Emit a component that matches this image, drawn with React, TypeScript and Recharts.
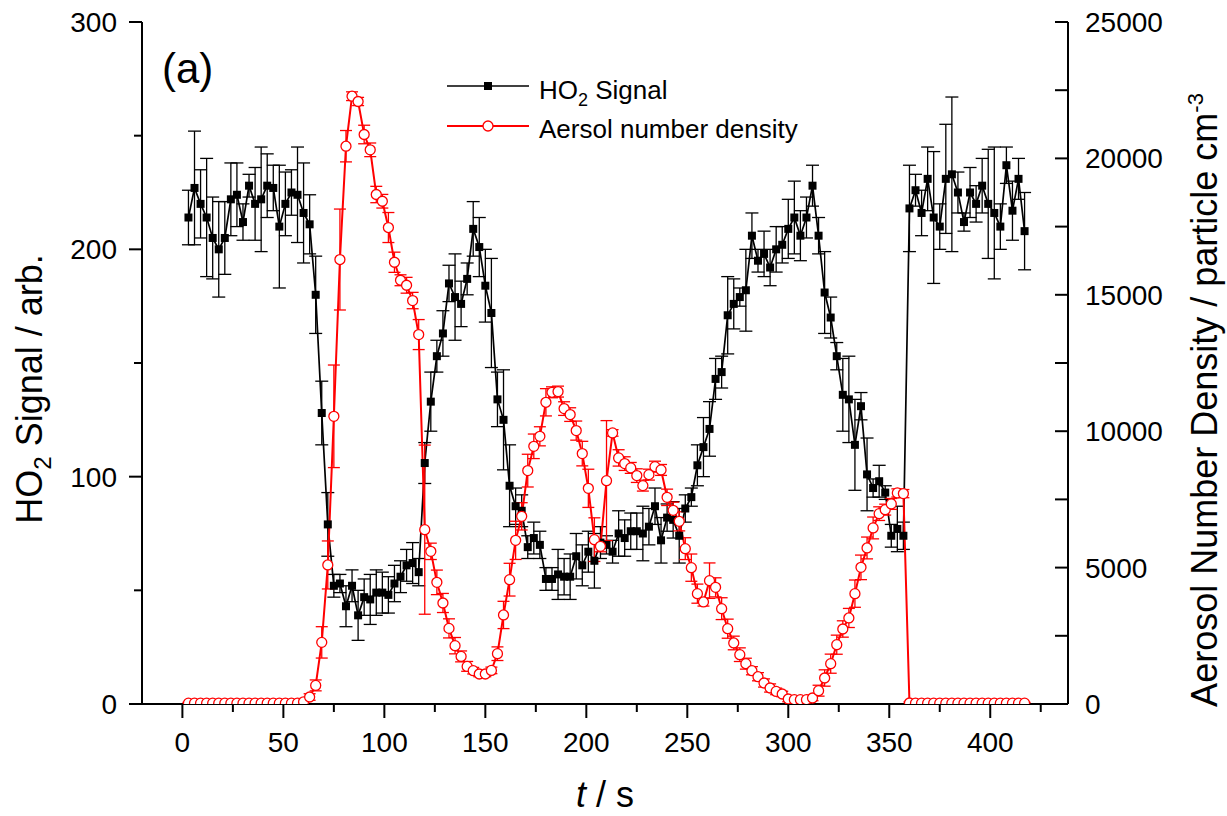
import { ComposedChart, ErrorBar, Line, XAxis, YAxis } from "recharts";

const FONT = '"Liberation Sans", Arial, sans-serif';

// sample times (s)
const times = [
  3, 6, 9, 12, 15, 18, 21, 24, 27, 30,
  33, 36, 39, 42, 45, 48, 51, 54, 57, 60,
  63, 66, 69, 72, 75, 78, 81, 84, 87, 90,
  93, 96, 99, 102, 105, 108, 111, 114, 117, 120,
  123, 126, 129, 132, 135, 138, 141, 144, 147, 150,
  153, 156, 159, 162, 165, 168, 171, 174, 177, 180,
  183, 186, 189, 192, 195, 198, 201, 204, 207, 210,
  213, 216, 219, 222, 225, 228, 231, 234, 237, 240,
  243, 246, 249, 252, 255, 258, 261, 264, 267, 270,
  273, 276, 279, 282, 285, 288, 291, 294, 297, 300,
  303, 306, 309, 312, 315, 318, 321, 324, 327, 330,
  333, 336, 339, 342, 345, 348, 351, 354, 357, 360,
  363, 366, 369, 372, 375, 378, 381, 384, 387, 390,
  393, 396, 399, 402, 405, 408, 411, 414, 417,
];

const ho2Signal = [
  214, 227, 220, 214, 205, 200, 205, 222, 224, 212,
  228, 220, 222, 228, 227, 210, 220, 225, 224, 216,
  211, 180, 128, 79, 52, 53, 43, 52, 39, 47,
  46, 49, 49, 48, 53, 56, 61, 62, 58, 106,
  133, 153, 163, 185, 179, 176, 187, 209, 201, 184,
  172, 134, 125, 96, 87, 85, 69, 73, 70, 55,
  55, 57, 56, 56, 65, 61, 67, 63, 71, 70,
  67, 75, 73, 76, 76, 75, 78, 87, 72, 82,
  81, 74, 86, 91, 105, 113, 121, 143, 146, 171,
  176, 179, 182, 206, 195, 198, 192, 200, 202, 209,
  214, 206, 214, 228, 206, 181, 170, 153, 136, 134,
  114, 131, 101, 95, 98, 93, 74, 77, 74, 218,
  226, 216, 231, 214, 210, 231, 233, 225, 212, 225,
  220, 228, 220, 216, 210, 237, 217, 231, 208,
];

const ho2Error = [
  12, 25, 15, 26, 18, 21, 16, 16, 14, 8,
  5, 16, 23, 14, 10, 27, 14, 10, 21, 22,
  13, 17, 14, 14, 5, 4, 9, 7, 11, 8,
  11, 10, 9, 8, 8, 7, 7, 9, 6, 9,
  13, 7, 10, 8, 19, 10, 7, 12, 13, 16,
  24, 12, 22, 18, 8, 7, 5, 7, 6, 5,
  5, 11, 8, 10, 10, 9, 9, 12, 7, 4,
  5, 10, 8, 8, 8, 12, 8, 8, 10, 6,
  8, 12, 6, 4, 9, 13, 12, 9, 7, 17,
  11, 4, 18, 10, 5, 10, 8, 10, 8, 13,
  16, 11, 9, 9, 8, 18, 9, 6, 16, 19,
  20, 6, 16, 4, 7, 3, 5, 10, 6, 19,
  7, 10, 14, 29, 10, 24, 34, 9, 4, 11,
  8, 12, 24, 29, 10, 8, 13, 9, 17,
];

const aerosolDensity = [
  30, 30, 30, 30, 30, 30, 30, 30, 30, 30,
  30, 30, 30, 30, 30, 30, 30, 30, 30, 80,
  257, 682, 2259, 5097, 10546, 16293, 20447, 22280, 22086, 20876,
  20315, 18676, 18430, 17466, 16193, 15533, 15350, 14789, 13542, 6391,
  5596, 4459, 3703, 2772, 2138, 1745, 1379, 1221, 1100, 1100,
  1232, 1844, 3264, 4558, 5999, 6879, 8555, 9446, 9813, 11060,
  11426, 11452, 10829, 10609, 10022, 9179, 7906, 6025, 5779, 8188,
  9937, 9021, 8812, 8654, 8372, 8005, 8408, 8701, 8580, 7576,
  7099, 6696, 5695, 4998, 4045, 3740, 4521, 4276, 3495, 2761,
  2237, 1808, 1478, 1220, 1000, 770, 587, 462, 367, 183,
  158, 158, 158, 220, 488, 953, 1478, 2174, 2750, 3154,
  4045, 5009, 5720, 6454, 6978, 7125, 7334, 7737, 7712, 37,
  30, 30, 30, 30, 30, 30, 30, 30, 30, 30,
  30, 30, 30, 30, 30, 30, 30, 30, 30,
];

const aerosolError = [
  30, 30, 30, 30, 30, 30, 30, 30, 30, 30,
  30, 30, 30, 30, 30, 30, 30, 30, 30, 60,
  120, 200, 575, 880, 1880, 1850, 575, 160, 150, 340,
  250, 300, 250, 550, 370, 200, 290, 300, 550, 3100,
  300, 450, 350, 350, 300, 200, 180, 120, 100, 100,
  120, 250, 500, 600, 700, 500, 600, 450, 350, 500,
  200, 200, 250, 250, 350, 450, 700, 800, 200, 2200,
  120, 300, 250, 200, 250, 200, 200, 200, 200, 300,
  300, 350, 400, 500, 350, 150, 650, 350, 400, 350,
  250, 250, 200, 150, 150, 150, 150, 120, 100, 100,
  80, 80, 80, 100, 200, 300, 350, 350, 300, 350,
  500, 450, 400, 400, 250, 200, 200, 150, 150, 40,
  30, 30, 30, 30, 30, 30, 30, 30, 30, 30,
  30, 30, 30, 30, 30, 30, 30, 30, 30,
];

const xTicks = [0, 25, 50, 75, 100, 125, 150, 175, 200, 225, 250, 275, 300, 325, 350, 375, 400, 425];
const leftTicks = [0, 50, 100, 150, 200, 250, 300];
const rightTicks = [0, 2500, 5000, 7500, 10000, 12500, 15000, 17500, 20000, 22500, 25000];

const data = times.map((t, i) => ({
  t,
  ho2: ho2Signal[i],
  ho2Err: ho2Error[i],
  aer: aerosolDensity[i],
  aerErr: aerosolError[i],
}));

const axisLine = { stroke: "#000", strokeWidth: 2 };

// ticks are drawn by hand so majors/minors can differ in length
function BottomTick(props: any) {
  const { x, y, payload } = props;
  const major = payload.value % 50 === 0;
  return (
    <g>
      <line x1={x} x2={x} y1={y} y2={y + (major ? 14 : 8)} stroke="#000" strokeWidth={2} />
      {major && (
        <text x={x} y={y + 48} textAnchor="middle" fontSize={28} fontFamily={FONT} fill="#000">
          {payload.value}
        </text>
      )}
    </g>
  );
}

function TopTick(props: any) {
  const { x, y, payload } = props;
  const major = payload.value % 50 === 0;
  return <line x1={x} x2={x} y1={y} y2={y + (major ? 14 : 8)} stroke="#000" strokeWidth={2} />;
}

function LeftTick(props: any) {
  const { x, y, payload } = props;
  const major = payload.value % 100 === 0;
  return (
    <g>
      <line x1={x} x2={x - (major ? 13 : 8)} y1={y} y2={y} stroke="#000" strokeWidth={2} />
      {major && (
        <text x={x - 25} y={y + 10} textAnchor="end" fontSize={28} fontFamily={FONT} fill="#000">
          {payload.value}
        </text>
      )}
    </g>
  );
}

function RightTick(props: any) {
  const { x, y, payload } = props;
  const major = payload.value % 5000 === 0;
  return (
    <g>
      <line x1={x} x2={x - 13} y1={y} y2={y} stroke="#000" strokeWidth={2} />
      {major && (
        <text x={x + 17} y={y + 10} textAnchor="start" fontSize={28} fontFamily={FONT} fill="#000">
          {payload.value}
        </text>
      )}
    </g>
  );
}

function SquareDot(props: any) {
  const { cx, cy, index } = props;
  if (cx == null || cy == null) return <g key={`sq-${index}`} />;
  return <rect key={`sq-${index}`} x={cx - 4} y={cy - 4} width={8} height={8} fill="#000" />;
}

export default function App() {
  return (
    <div style={{ position: "absolute", left: 0, top: 0, width: 1227, height: 816, background: "#fff", fontFamily: FONT }}>
      <ComposedChart
        width={1227}
        height={816}
        data={data}
        margin={{ top: 22, right: 59, bottom: 52, left: 62 }}
      >
        <XAxis
          xAxisId="b"
          dataKey="t"
          type="number"
          domain={[-20, 438.5]}
          allowDataOverflow
          ticks={xTicks}
          interval={0}
          height={60}
          tickSize={0}
          tickMargin={0}
          tickLine={false}
          axisLine={axisLine}
          tick={<BottomTick />}
        />
        <XAxis
          xAxisId="top"
          orientation="top"
          dataKey="t"
          type="number"
          domain={[-20, 438.5]}
          allowDataOverflow
          ticks={xTicks}
          interval={0}
          height={0}
          tickSize={0}
          tickMargin={0}
          tickLine={false}
          axisLine={axisLine}
          tick={<TopTick />}
        />
        <YAxis
          yAxisId="l"
          type="number"
          domain={[0, 300]}
          allowDataOverflow
          ticks={leftTicks}
          interval={0}
          width={80}
          tickSize={0}
          tickMargin={0}
          tickLine={false}
          axisLine={axisLine}
          tick={<LeftTick />}
        />
        <YAxis
          yAxisId="r"
          orientation="right"
          type="number"
          domain={[0, 25000]}
          allowDataOverflow
          ticks={rightTicks}
          interval={0}
          width={100}
          tickSize={0}
          tickMargin={0}
          tickLine={false}
          axisLine={axisLine}
          tick={<RightTick />}
        />
        <Line
          xAxisId="b"
          yAxisId="l"
          dataKey="ho2"
          type="linear"
          stroke="#000"
          strokeWidth={1.7}
          dot={SquareDot}
          activeDot={false}
          isAnimationActive={false}
        >
          <ErrorBar dataKey="ho2Err" direction="y" width={6.5} stroke="#000" strokeWidth={1.3} isAnimationActive={false} />
        </Line>
        <Line
          xAxisId="b"
          yAxisId="r"
          dataKey="aer"
          type="linear"
          stroke="#ff0000"
          strokeWidth={2}
          dot={{ r: 5, fill: "#fff", stroke: "#ff0000", strokeWidth: 1.3 }}
          activeDot={false}
          isAnimationActive={false}
        >
          <ErrorBar dataKey="aerErr" direction="y" width={6} stroke="#ff0000" strokeWidth={1.3} isAnimationActive={false} />
        </Line>
      </ComposedChart>
      <svg
        width={1227}
        height={816}
        style={{ position: "absolute", left: 0, top: 0, pointerEvents: "none" }}
        fontFamily={FONT}
      >
        <text x={162} y={83} fontSize={42} fill="#000">(a)</text>

        <line x1={447} x2={529} y1={86} y2={86} stroke="#000" strokeWidth={1.7} />
        <rect x={484} y={82} width={8} height={8} fill="#000" />
        <text x={539} y={99} fontSize={26} fill="#000">
          HO<tspan dy={7} fontSize={18}>2</tspan>
          <tspan dy={-7}> Signal</tspan>
        </text>
        <line x1={447} x2={529} y1={126} y2={126} stroke="#ff0000" strokeWidth={2} />
        <circle cx={488} cy={126} r={5} fill="#fff" stroke="#ff0000" strokeWidth={1.3} />
        <text x={539} y={138} fontSize={26} fill="#000">Aersol number density</text>

        <text transform="translate(42, 389) rotate(-90)" textAnchor="middle" fontSize={36} fill="#000">
          HO<tspan dy={9} fontSize={24}>2</tspan>
          <tspan dy={-9}> Signal / arb.</tspan>
        </text>
        <text transform="translate(1217, 400) rotate(-90)" textAnchor="middle" fontSize={36} fill="#000">
          Aerosol Number Density / particle cm<tspan dy={-14} fontSize={22}>-3</tspan>
        </text>
        <text x={605} y={807} textAnchor="middle" fontSize={36} fill="#000">
          <tspan fontStyle="italic">t</tspan> / s
        </text>
      </svg>
    </div>
  );
}
